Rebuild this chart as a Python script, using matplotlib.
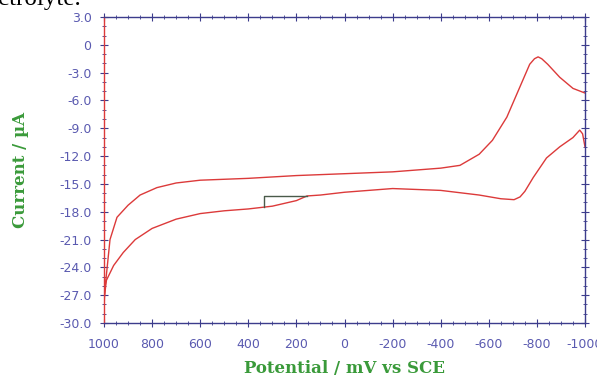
import matplotlib
matplotlib.use("Agg")
import matplotlib.pyplot as plt
from matplotlib.ticker import MultipleLocator, FuncFormatter

# forward scan (1000 -> -1000 mV)
fwd_v = [1000, 998, 995, 988, 975, 946, 900, 850, 780, 700, 600, 400, 200, 0,
         -200, -400, -480, -560, -615, -675, -730, -770, -790, -805, -820,
         -845, -895, -950, -990, -1000]
fwd_i = [-28.5, -27.2, -26.0, -24.3, -21.0, -18.6, -17.3, -16.2, -15.4, -14.9,
         -14.6, -14.4, -14.1, -13.9, -13.7, -13.3, -13.0, -11.8, -10.3, -7.8,
         -4.5, -2.1, -1.5, -1.3, -1.5, -2.1, -3.5, -4.7, -5.1, -5.2]

# reverse scan (-1000 -> 1000 mV)
rev_v = [-1000, -990, -978, -950, -895, -840, -785, -750, -730, -705, -650,
         -560, -400, -200, 0, 100, 156, 200, 300, 400, 500, 600, 700, 800,
         870, 920, 960, 990, 1000]
rev_i = [-11.0, -9.6, -9.2, -10.0, -11.0, -12.2, -14.3, -15.8, -16.4, -16.7,
         -16.6, -16.2, -15.7, -15.5, -15.9, -16.2, -16.3, -16.8, -17.4, -17.7,
         -17.9, -18.2, -18.8, -19.8, -21.0, -22.4, -23.8, -25.4, -27.5]

# initial step at start of the scan
start_v = [335, 335, 156]
start_i = [-17.5, -16.3, -16.3]

xticks = [1000, 800, 600, 400, 200, 0, -200, -400, -600, -800, -1000]
yticks = [3, 0, -3, -6, -9, -12, -15, -18, -21, -24, -27, -30]

navy = "#3c3c8c"
tickcol = "#5a5ab0"
green = "#3a9a3a"
red = "#dc3a3a"

fig = plt.figure(figsize=(5.97, 3.87), dpi=100)
ax = fig.add_axes([104/597, 1-323/387, 481/597, 306/387])

ax.plot(fwd_v, fwd_i, color=red, lw=1.0)
ax.plot(rev_v, rev_i, color=red, lw=1.0)
ax.plot(start_v, start_i, color="#4a5a4a", lw=1.0)

ax.set_xlim(1000, -1000)
ax.set_ylim(-30, 3)
ax.set_xticks(xticks)
ax.set_yticks(yticks)
ax.xaxis.set_minor_locator(MultipleLocator(50))
ax.yaxis.set_minor_locator(MultipleLocator(1))
ax.xaxis.set_major_formatter(FuncFormatter(lambda v, p: "%d" % v))
ax.yaxis.set_major_formatter(FuncFormatter(lambda v, p: "0" if v == 0 else "%.1f" % v))

for s in ["top", "bottom", "right"]:
    ax.spines[s].set_color(navy)
ax.spines["left"].set_color(red)
for s in ax.spines.values():
    s.set_linewidth(1.0)

ax.tick_params(which="both", direction="inout", color=navy, top=True, right=True,
               labelcolor=tickcol, labelsize=9)
ax.tick_params(which="major", length=6, width=0.8)
ax.tick_params(which="minor", length=3, width=0.6)
ax.tick_params(axis="x", pad=8)
ax.tick_params(axis="y", pad=6)

ax.set_xlabel("Potential / mV vs SCE", color=green, fontsize=12,
              fontweight="bold", family="DejaVu Serif", labelpad=6)
ax.set_ylabel("Current / \u00b5A", color=green, fontsize=12,
              fontweight="bold", family="DejaVu Serif", labelpad=22)

fig.text(-0.003, 1 - 5/387, "ctrolyte.", fontsize=18, family="Liberation Serif",
         va="baseline", ha="left", color="black")

fig.savefig("out.png", dpi=100)
